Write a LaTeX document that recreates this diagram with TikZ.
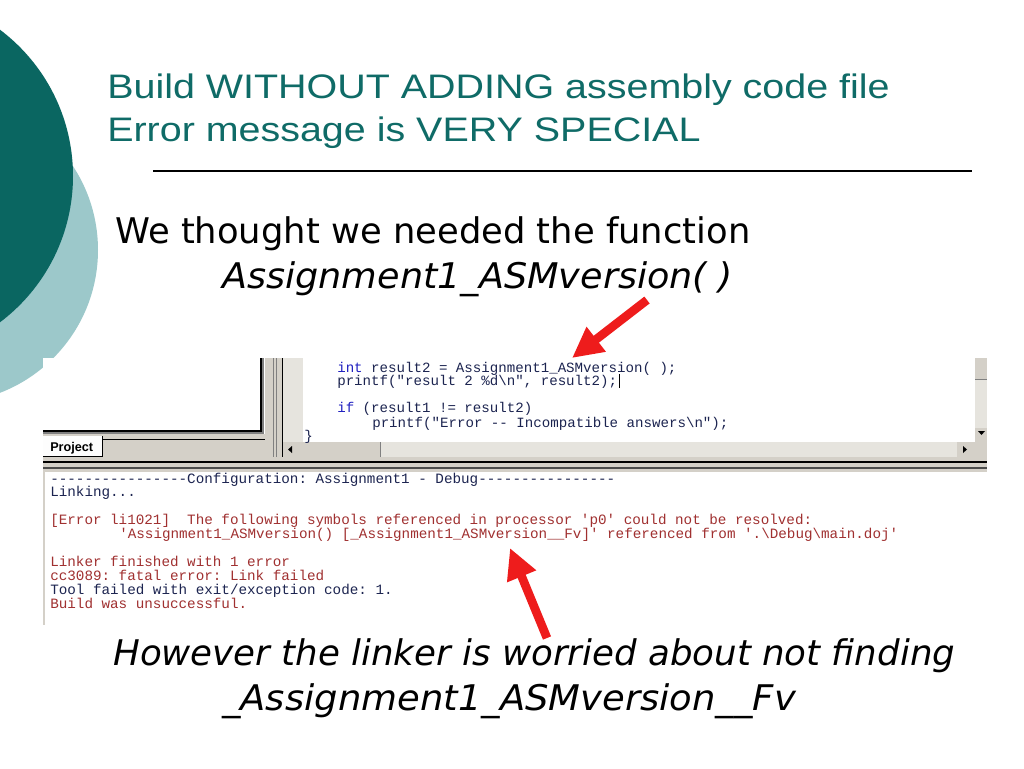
\documentclass[tikz,border=0pt]{standalone}
\usepackage{fontspec}
\setmainfont{Liberation Sans}
\setmonofont{Liberation Mono}
\newfontfamily\bodyfont{DejaVu Sans}
\usetikzlibrary{arrows.meta}
\definecolor{darkteal}{HTML}{0A6661}
\definecolor{lightteal}{HTML}{9CC8CA}
\definecolor{titleteal}{HTML}{0F6B67}
\definecolor{winGray}{HTML}{D4D0C8}
\definecolor{dotGray}{HTML}{E6E4DE}
\definecolor{edgeGray}{HTML}{808080}
\definecolor{kwblue}{HTML}{2020C0}
\definecolor{codenavy}{HTML}{1C2450}
\definecolor{errred}{HTML}{A03030}
\definecolor{arrowred}{HTML}{EE1C1C}
\tikzset{
  titletext/.style={anchor=base west, inner sep=0pt, text=titleteal, font=\fontsize{25.5pt}{30pt}\selectfont},
  bodytext/.style={anchor=base west, inner sep=0pt, text=black, font=\bodyfont\fontsize{26.5pt}{32pt}\selectfont},
  codetext/.style={anchor=base west, inner sep=0pt, text=codenavy, font=\ttfamily\fontsize{10.6pt}{12pt}\selectfont},
  outtext/.style={anchor=base west, inner sep=0pt, text=errred, font=\ttfamily\fontsize{10.7pt}{12pt}\selectfont},
  redarrow/.style={draw=arrowred, line width=6.5pt, -{Triangle[length=23pt,width=22pt]}},
}
\newcommand{\hstretch}[1]{\scalebox{1.16}[1]{#1}}
\begin{document}
\begin{tikzpicture}[x=0.75pt,y=-0.75pt]
\useasboundingbox (0,0) rectangle (1024,768);
\fill[white] (0,0) rectangle (1024,768);
% decorative circles
\fill[lightteal] (-55,250) circle (153);
\fill[darkteal] (-110,176) circle (183);
% title
\node[titletext] (t1) at (107,98) {\hstretch{Build WITHOUT ADDING assembly code file}};
\node[titletext] (t2) at (107,141) {\hstretch{Error message is VERY SPECIAL}};
\draw[line width=0.9pt] (153,171) -- (972,171);
% body
\node[bodytext] (b1) at (115,243) {We thought we needed the function};
\node[bodytext] (b2) at (222,288) {\scalebox{1.035}[1]{\itshape Assignment1\_ASMversion( )}};
% ---------- screenshot ----------
\fill[white] (43,358) rectangle (987,625);
% left project pane
\fill[white] (43,358) rectangle (263,433);
\draw[edgeGray, line width=0.9pt] (263,358) -- (263,433) -- (43,433);
\draw[black, line width=0.9pt] (261,358) -- (261,431) -- (43,431);
% tab strip
\fill[winGray] (43,434) rectangle (283,460);
\fill[white!96!winGray] (43,436) rectangle (102,456);
\draw[black, line width=0.75pt] (43,456) -- (102,456) -- (102,436);
\draw[black, line width=0.75pt] (102,439) -- (265,439) -- (265,457);
\node[anchor=base west, inner sep=0pt, font=\bfseries\fontsize{9.5pt}{11pt}\selectfont] (proj) at (50,451) {Project};
% splitter
\fill[winGray] (265,358) rectangle (283,460);
\draw[edgeGray, line width=0.75pt] (273,358) -- (273,460);
\draw[edgeGray, line width=0.75pt] (276,358) -- (276,460);
\draw[black, line width=0.75pt] (282,358) -- (282,458);
% editor
\fill[dotGray] (283,358) rectangle (303,442);
\fill[white] (303,358) rectangle (975,442);
% vertical scrollbar
\fill[dotGray] (975,358) rectangle (987,442);
\fill[winGray] (975,358) rectangle (987,379);
\draw[edgeGray, line width=0.75pt] (975,379) -- (987,379);
\fill[winGray] (975,428) rectangle (987,442);
\fill[black] (978,431) -- (985,431) -- (981.5,435) -- cycle;
% horizontal scrollbar
\fill[dotGray] (283,442) rectangle (975,457);
\fill[winGray] (283,442) rectangle (296,457);
\fill[black] (292,446) -- (292,453) -- (288,449.5) -- cycle;
\fill[winGray] (296,442) rectangle (380,457);
\draw[edgeGray, line width=0.75pt] (380,442) -- (380,457) -- (296,457);
\fill[winGray] (957,442) rectangle (972,457);
\draw[black, line width=0.75pt] (972,442) -- (972,457) -- (957,457);
\fill[black] (963,446) -- (963,453) -- (967,449.5) -- cycle;
\fill[winGray] (972,442) rectangle (987,457);
% divider
\fill[winGray] (43,457) rectangle (987,472);
\draw[black, line width=1pt] (43,462) -- (987,462);
\draw[black!70, line width=1pt] (43,468) -- (987,468);
% output pane
\fill[white] (43,472) rectangle (987,625);
\draw[winGray, line width=2pt] (44,472) -- (44,625);
% code text
\node[codetext] (c1) at (337,372) {{\color{kwblue}int} result2 = Assignment1\_ASMversion( );};
\node[codetext] (c2) at (337,385) {printf("result 2 \%d\textbackslash n", result2);};
\draw[black, line width=1.2pt] (c2.base east) ++(2,3) -- ++(0,-14);
\node[codetext] (c3) at (337,412) {{\color{kwblue}if} (result1 != result2)};
\node[codetext] (c4) at (372,427) {printf("Error -- Incompatible answers\textbackslash n");};
\node[codetext] (c5) at (304,440) {\}};
% output text
\node[outtext, text=codenavy] (o1) at (50,483) {----------------Configuration: Assignment1 - Debug----------------};
\node[outtext, text=codenavy] (o2) at (50,496) {Linking...};
\node[outtext] (o3) at (50,524) {[Error li1021]~~The following symbols referenced in processor 'p0' could not be resolved:};
\node[outtext] (o4) at (119,538) {'Assignment1\_ASMversion() [\_Assignment1\_ASMversion\_\_Fv]' referenced from '.\textbackslash Debug\textbackslash main.doj'};
\node[outtext] (o5) at (50,566) {Linker finished with 1 error};
\node[outtext] (o6) at (50,580) {cc3089: fatal error: Link failed};
\node[outtext, text=codenavy] (o7) at (50,594) {Tool failed with exit/exception code: 1.};
\node[outtext] (o8) at (50,608) {Build was unsuccessful.};
% bottom text
\node[bodytext] (b3) at (113,665) {\scalebox{1.008}[1]{\itshape However the linker is worried about not finding}};
\node[bodytext] (b4) at (222,710) {\scalebox{1.045}[1]{\itshape \_Assignment1\_ASMversion\_\_Fv}};
% arrows
\coordinate (a1s) at (647,300);
\coordinate (a1t) at (572,358);
\coordinate (a2s) at (547,638);
\coordinate (a2t) at (510,548);
\draw[redarrow] (a1s) -- (a1t);
\draw[redarrow] (a2s) -- (a2t);
\end{tikzpicture}
\end{document}
